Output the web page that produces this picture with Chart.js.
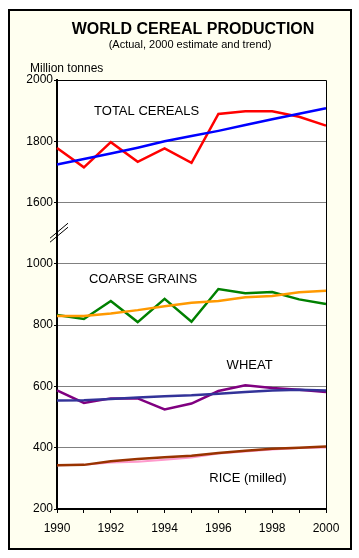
<!DOCTYPE html>
<html>
<head>
<meta charset="utf-8">
<script src="https://cdn.jsdelivr.net/npm/chart.js@4/dist/chart.umd.min.js"></script>
<style>
  html, body { margin: 0; padding: 0; background: #fff; }
  canvas { display: block; }
</style>
</head>
<body>
<canvas id="cerealChart" width="359" height="558"></canvas>
<script>
// Years on the x axis
const YEARS = ['1990', '1991', '1992', '1993', '1994', '1995', '1996', '1997', '1998', '1999', '2000'];

// Million tonnes
const TOTAL_ACTUAL = [1778, 1715, 1797, 1733, 1777, 1730, 1889, 1898, 1898, 1880, 1851];
const TOTAL_TREND  = [1724, 1742, 1760, 1779, 1800, 1817, 1834, 1853, 1872, 1890, 1908];
const COARSE_ACTUAL = [833, 820, 879, 810, 886, 811, 918, 904, 908, 884, 869];
const COARSE_TREND  = [830, 830, 838, 849, 862, 873, 879, 891, 895, 907, 912];
const WHEAT_ACTUAL = [587, 546, 561, 561, 525, 544, 585, 604, 595, 589, 582];
const WHEAT_TREND  = [554, 555, 559, 564, 568, 571, 576, 582, 587, 589, 587];
const RICE_ACTUAL = [343, 344, 352, 354, 361, 368, 381, 388, 394, 399, 401];
const RICE_TREND  = [343, 344, 356, 363, 369, 374, 383, 390, 397, 400, 404];

// Y tick labels (lower part and upper part of the broken axis)
const Y_TICKS_LOW = [200, 400, 600, 800, 1000];
const Y_TICKS_HIGH = [1600, 1800, 2000];

// broken axis: values from the upper part are moved down by this much
const SHIFT = 400;
const up = arr => arr.map(v => v - SHIFT);

// curve names written inside the plot (x = year index, y = value)
const NAMES = [
    { text: 'TOTAL CEREALS', x: 3.33, y: 1898 - SHIFT },
    { text: 'COARSE GRAINS', x: 3.2, y: 948 },
    { text: 'WHEAT', x: 7.16, y: 668 },
    { text: 'RICE (milled)', x: 7.1, y: 300 }
];

const framePlugin = {
    id: 'frame',
    beforeDraw(chart) {
        const c = chart.ctx;
        const a = chart.chartArea;
        c.save();
        c.fillStyle = '#fff';
        c.fillRect(0, 0, chart.width, chart.height);
        c.fillStyle = '#FFFFF0';
        c.fillRect(9, 10, 342, 539);
        c.lineWidth = 2;
        c.strokeStyle = '#000';
        c.strokeRect(9, 10, 342, 539);
        c.fillStyle = '#fff';
        c.fillRect(a.left, a.top, a.right - a.left, a.bottom - a.top);

        c.fillStyle = '#000';
        c.textAlign = 'center';
        c.textBaseline = 'alphabetic';
        c.font = 'bold 16px Arial, "Liberation Sans", sans-serif';
        c.fillText('WORLD CEREAL PRODUCTION', 193, 34);
        c.font = '11px Arial, "Liberation Sans", sans-serif';
        c.fillText('(Actual, 2000 estimate and trend)', 190, 48);
        c.textAlign = 'left';
        c.font = '12px Arial, "Liberation Sans", sans-serif';
        c.fillText('Million tonnes', 30, 72);
        c.restore();
    },
    afterDatasetsDraw(chart) {
        const c = chart.ctx;
        const a = chart.chartArea;
        const xs = chart.scales.x, ys = chart.scales.y;
        c.save();
        // thin top and right edge of the plot
        c.strokeStyle = '#000';
        c.lineWidth = 1;
        c.beginPath();
        c.moveTo(a.left, a.top + 0.5);
        c.lineTo(a.right + 0.5, a.top + 0.5);
        c.lineTo(a.right + 0.5, a.bottom);
        c.stroke();

        // break marks on the y axis
        const by = ys.getPixelForValue(1100);
        c.lineWidth = 1;
        c.beginPath();
        c.moveTo(a.left - 7, by + 9);
        c.lineTo(a.left + 11, by - 6);
        c.moveTo(a.left - 7, by + 5);
        c.lineTo(a.left + 11, by - 10);
        c.stroke();

        // curve names
        c.fillStyle = '#000';
        c.font = '13px Arial, "Liberation Sans", sans-serif';
        c.textAlign = 'center';
        c.textBaseline = 'middle';
        NAMES.forEach(n => {
            c.fillText(n.text, xs.getPixelForValue(n.x), ys.getPixelForValue(n.y));
        });
        c.restore();
    }
};

const line = (data, color, width) => ({
    data: data,
    borderColor: color,
    backgroundColor: color,
    borderWidth: width,
    pointRadius: 0,
    tension: 0,
    fill: false
});

const ctx = document.getElementById('cerealChart').getContext('2d');
new Chart(ctx, {
    type: 'line',
    data: {
        labels: YEARS,
        datasets: [
            line(up(TOTAL_TREND), '#0000FF', 2.5),
            line(up(TOTAL_ACTUAL), '#FF0000', 2.5),
            line(COARSE_TREND, '#FF9900', 2.5),
            line(COARSE_ACTUAL, '#008000', 2.5),
            line(WHEAT_TREND, '#333399', 2.5),
            line(WHEAT_ACTUAL, '#800080', 2.5),
            line(RICE_TREND, '#993300', 2.5),
            line(RICE_ACTUAL, '#FF99CC', 2)
        ]
    },
    options: {
        responsive: false,
        animation: false,
        layout: { padding: { top: 80, right: 33, left: 0, bottom: 0 } },
        plugins: {
            legend: { display: false },
            tooltip: { enabled: false }
        },
        scales: {
            x: {
                offset: false,
                grid: { drawOnChartArea: false, tickLength: 4, tickColor: '#000' },
                border: { display: true, color: '#000', width: 2 },
                ticks: {
                    autoSkip: false,
                    maxRotation: 0,
                    padding: 8,
                    color: '#000',
                    font: { family: 'Arial, "Liberation Sans", sans-serif', size: 12 },
                    callback: (v, i) => (i % 2 === 0 ? YEARS[i] : '')
                },
                afterFit: s => { s.height = 49; }
            },
            y: {
                min: Y_TICKS_LOW[0],
                max: Y_TICKS_HIGH[Y_TICKS_HIGH.length - 1] - SHIFT,
                afterBuildTicks: s => {
                    s.ticks = Y_TICKS_LOW.concat(up(Y_TICKS_HIGH)).map(v => ({ value: v }));
                },
                grid: { color: '#808080', lineWidth: 1, tickLength: 3, tickColor: '#000' },
                border: { display: true, color: '#000', width: 2 },
                ticks: {
                    padding: 1,
                    color: '#000',
                    font: { family: 'Arial, "Liberation Sans", sans-serif', size: 12 },
                    callback: v => String(v > Y_TICKS_LOW[Y_TICKS_LOW.length - 1] ? v + SHIFT : v)
                },
                afterFit: s => { s.width = 57; }
            }
        }
    },
    plugins: [framePlugin]
});
</script>
</body>
</html>
